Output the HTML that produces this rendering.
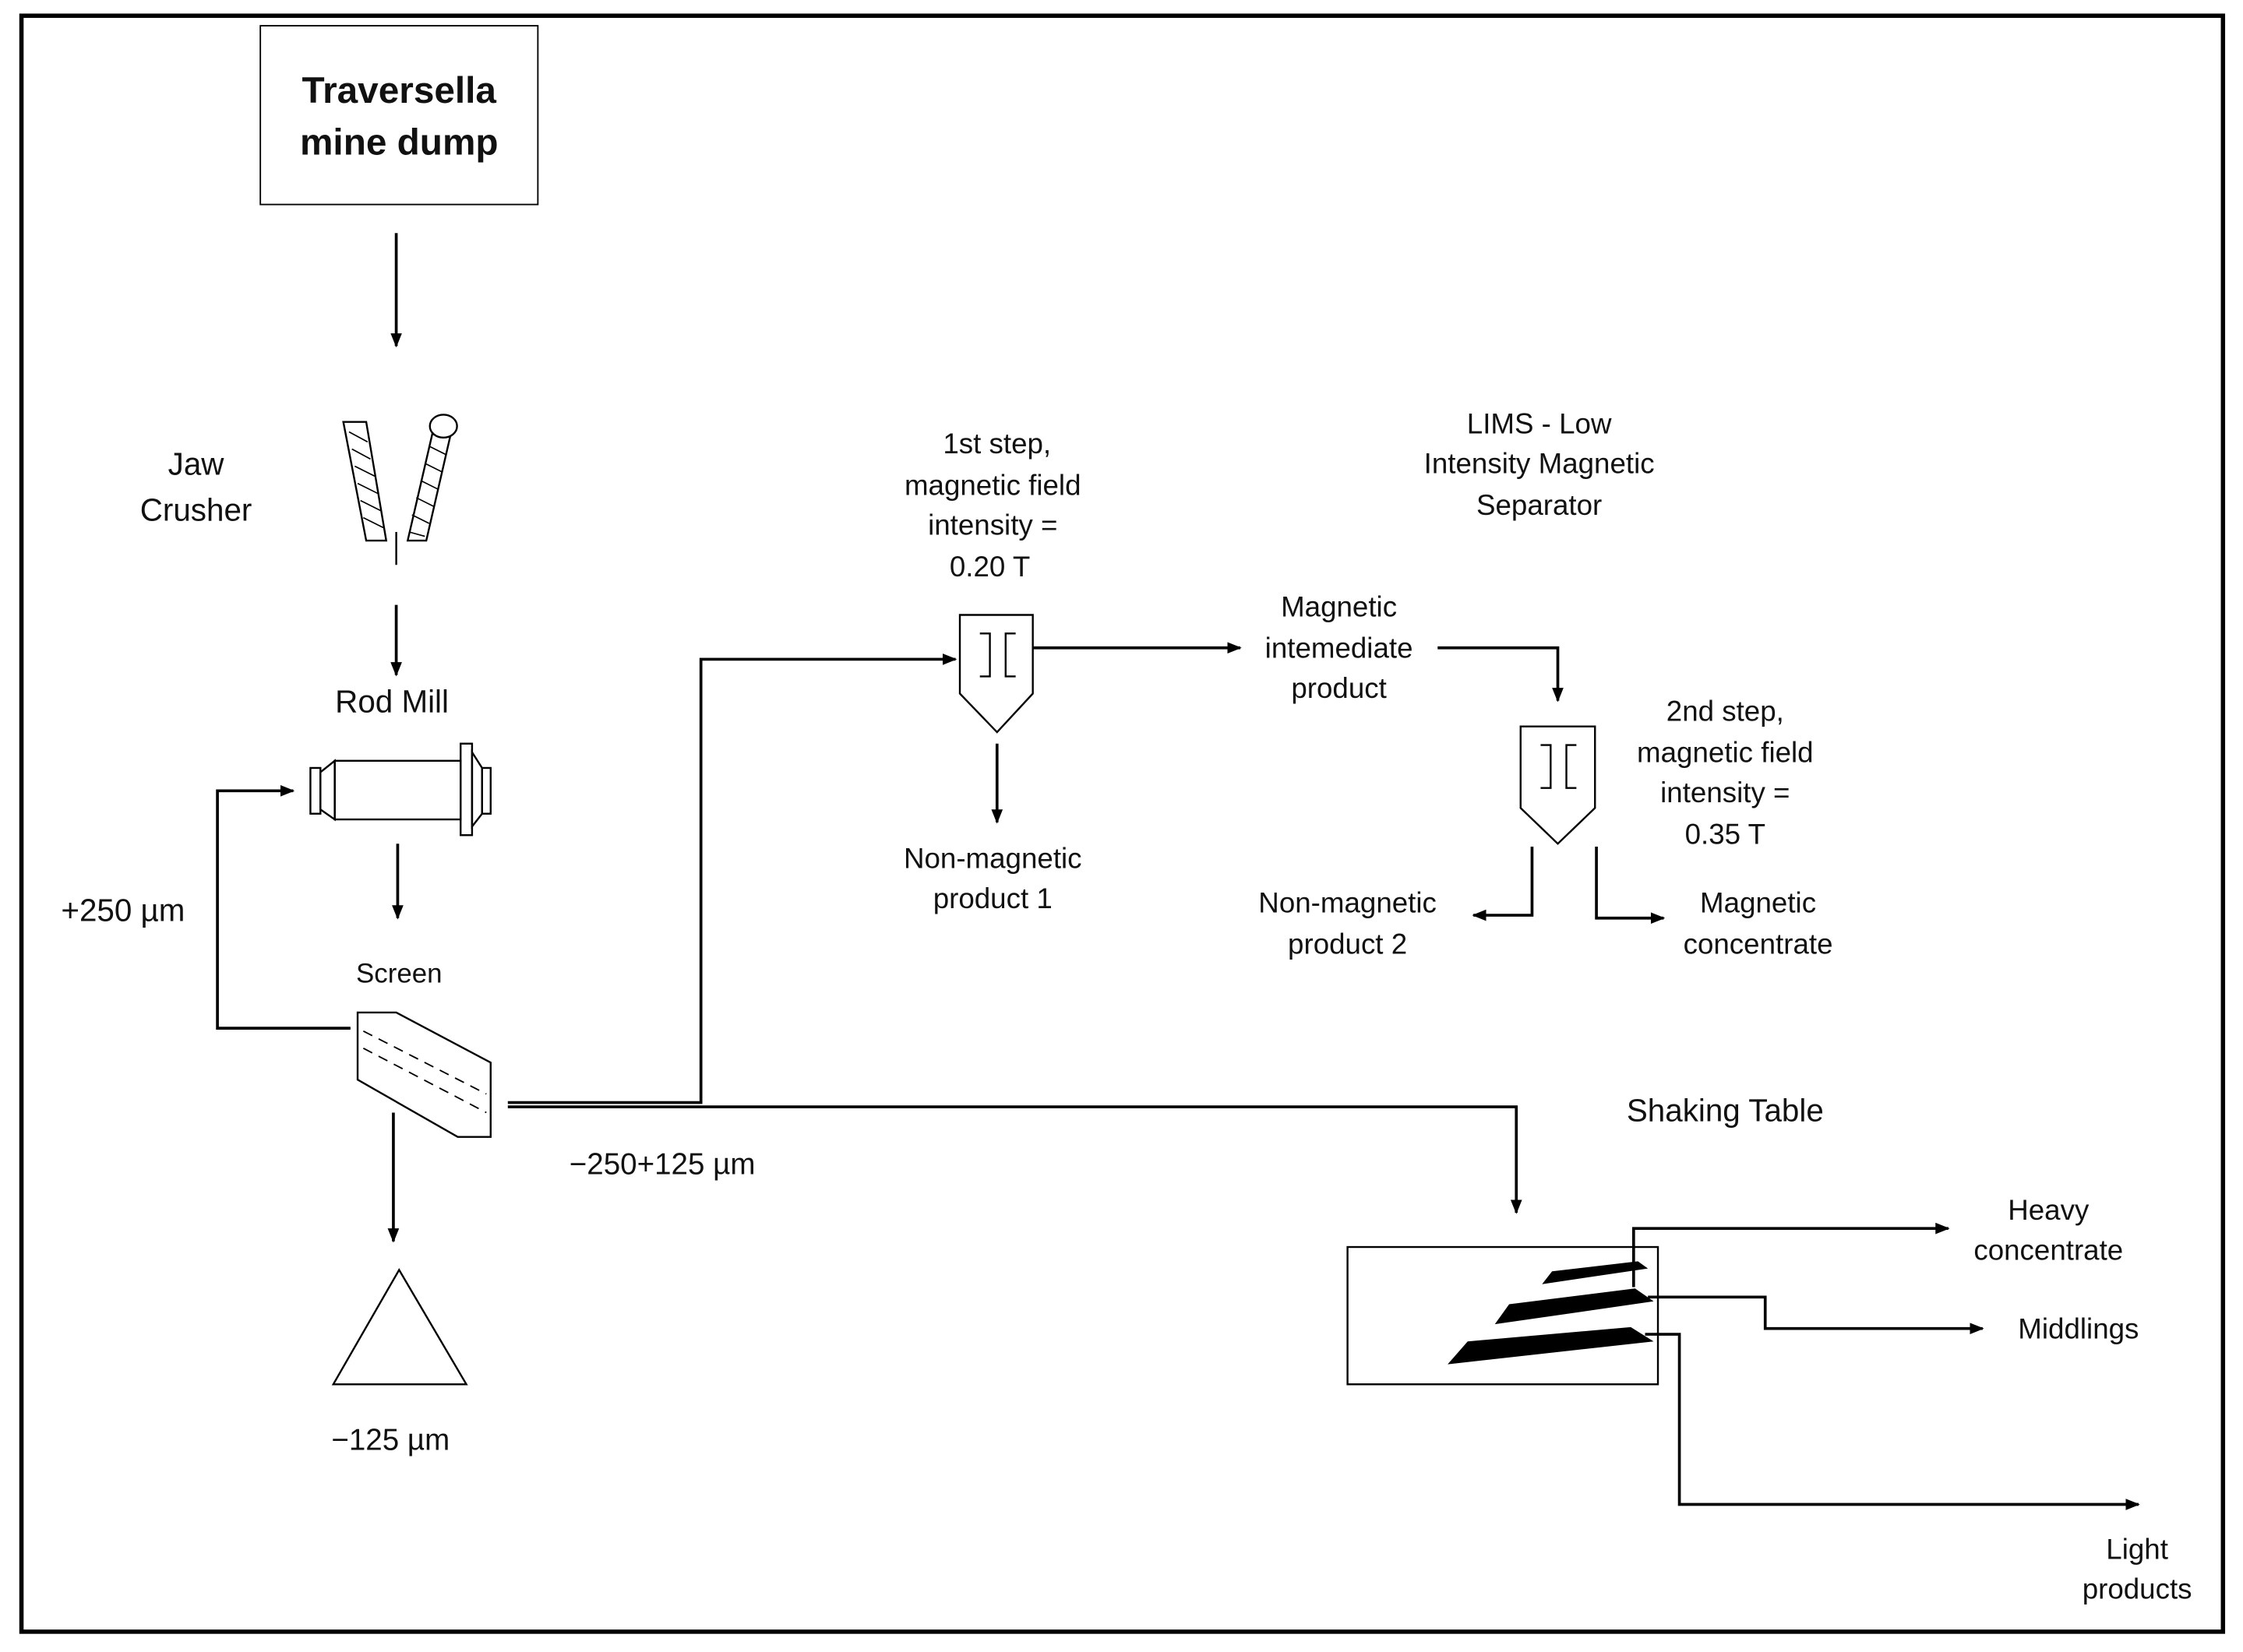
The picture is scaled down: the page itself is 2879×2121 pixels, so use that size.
<!DOCTYPE html>
<html><head><meta charset="utf-8"><style>
html,body{margin:0;padding:0;background:#fff;}
svg{display:block;}
text{font-family:"Liberation Sans",sans-serif;font-size:20px;fill:#111;text-anchor:middle;}
</style></head><body>
<svg width="2879" height="2121" viewBox="0 0 1568 1155.2" preserveAspectRatio="none" xmlns="http://www.w3.org/2000/svg">
<defs>
<marker id="a" markerWidth="10" markerHeight="8" refX="9" refY="4" orient="auto" markerUnits="userSpaceOnUse">
<path d="M0,0 L10,4 L0,8 Z" fill="#000"/></marker>
</defs>
<rect x="0" y="0" width="1568" height="1156" fill="#fff"/>
<rect x="15" y="11" width="1539" height="1130" fill="none" stroke="#000" stroke-width="3"/>
<g fill="none" stroke="#000" stroke-width="2">
<rect x="182" y="18" width="194" height="125" stroke-width="1"/>
<line x1="277" y1="163" x2="277" y2="242" marker-end="url(#a)"/>
<polygon points="240,295 256,295 270,378 256,378" stroke-width="1.3"/>
<g stroke-width="0.9"><line x1="244" y1="302" x2="257" y2="309"/><line x1="246" y1="314" x2="259" y2="321"/><line x1="248" y1="326" x2="262" y2="333"/><line x1="250" y1="338" x2="264" y2="345"/><line x1="252" y1="350" x2="266" y2="357"/><line x1="254" y1="362" x2="268" y2="369"/></g>
<polygon points="303,300 315,304 298,378 285,378" stroke-width="1.3"/>
<g stroke-width="0.9"><line x1="300" y1="312" x2="312" y2="318"/><line x1="297" y1="324" x2="309" y2="330"/><line x1="294" y1="336" x2="306" y2="342"/><line x1="291" y1="348" x2="303" y2="354"/><line x1="288" y1="360" x2="300" y2="366"/><line x1="286" y1="372" x2="297" y2="375"/></g>
<ellipse cx="310" cy="298" rx="9.5" ry="8" fill="#fff" stroke-width="1.3"/>
<line x1="277" y1="372" x2="277" y2="395" stroke-width="1.3"/>
<line x1="277" y1="423" x2="277" y2="472" marker-end="url(#a)"/>
<g stroke-width="1.3">
<rect x="234" y="532" width="88" height="41"/>
<polygon points="224,540 234,532 234,573 224,566"/>
<rect x="217" y="537" width="7" height="32"/>
<rect x="322" y="520" width="8" height="64"/>
<polygon points="330,526 337,537 337,569 330,578"/>
<rect x="337" y="537" width="6" height="32"/>
</g>
<line x1="278" y1="590" x2="278" y2="642" marker-end="url(#a)"/>
<polygon points="250,708 277,708 343,743 343,795 320,795 250,755" stroke-width="1.3"/>
<g stroke-width="1" stroke-dasharray="7,5">
<line x1="254" y1="721" x2="340" y2="765"/>
<line x1="254" y1="733" x2="340" y2="778"/>
</g>
<polyline points="245,719 152,719 152,553 205,553" marker-end="url(#a)"/>
<line x1="275" y1="778" x2="275" y2="868" marker-end="url(#a)"/>
<polygon points="233,968 326,968 279,888" stroke-width="1.3"/>
<polyline points="355,771 490,771 490,461 668,461" marker-end="url(#a)"/>
<polyline points="355,774 1060,774 1060,848" marker-end="url(#a)"/>
<polygon points="671,430 722,430 722,485 697,512 671,485" stroke-width="1.3"/>
<g stroke-width="1.3"><polyline points="685,443 692,443 692,473 685,473"/><polyline points="710,443 703,443 703,473 710,473"/></g>
<line x1="722" y1="453" x2="867" y2="453" marker-end="url(#a)"/>
<line x1="697" y1="520" x2="697" y2="575" marker-end="url(#a)"/>
<polyline points="1005,453 1089,453 1089,490" marker-end="url(#a)"/>
<polygon points="1063,508 1115,508 1115,565 1089,590 1063,565" stroke-width="1.3"/>
<g stroke-width="1.3"><polyline points="1077,521 1084,521 1084,551 1077,551"/><polyline points="1102,521 1095,521 1095,551 1102,551"/></g>
<polyline points="1071,592 1071,640 1030,640" marker-end="url(#a)"/>
<polyline points="1116,592 1116,642 1163,642" marker-end="url(#a)"/>
<rect x="942" y="872" width="217" height="96" stroke-width="1.3"/>
<polyline points="1142,900 1142,859 1362,859" marker-end="url(#a)"/>
<polyline points="1152,907 1234,907 1234,929 1386,929" marker-end="url(#a)"/>
<polyline points="1150,933 1174,933 1174,1052 1495,1052" marker-end="url(#a)"/>
</g>
<g fill="#000">
<polygon points="1078,898 1085,889 1145,882 1152,887"/>
<polygon points="1045,926 1055,912 1143,901 1156,910"/>
<polygon points="1012,954 1026,938 1140,928 1156,938"/>
</g>
<text x="279" y="72" style="font-weight:bold;font-size:26px">Traversella</text>
<text x="279" y="108" style="font-weight:bold;font-size:26px">mine dump</text>
<text x="137" y="332" style="font-size:22px">Jaw</text>
<text x="137" y="364" style="font-size:22px">Crusher</text>
<text x="274" y="498" style="font-size:22px">Rod Mill</text>
<text x="279" y="687" style="font-size:19px">Screen</text>
<text x="86" y="644" style="font-size:22px">+250 µm</text>
<text x="273" y="1014" style="font-size:21px">−125 µm</text>
<text x="463" y="821" style="font-size:21px">−250+125 µm</text>
<text x="697" y="317">1st step,</text>
<text x="694" y="346">magnetic field</text>
<text x="694" y="374">intensity =</text>
<text x="692" y="403">0.20 T</text>
<text x="694" y="607">Non-magnetic</text>
<text x="694" y="635">product 1</text>
<text x="936" y="431">Magnetic</text>
<text x="936" y="460">intemediate</text>
<text x="936" y="488">product</text>
<text x="1076" y="303">LIMS - Low</text>
<text x="1076" y="331">Intensity Magnetic</text>
<text x="1076" y="360">Separator</text>
<text x="1206" y="504">2nd step,</text>
<text x="1206" y="533">magnetic field</text>
<text x="1206" y="561">intensity =</text>
<text x="1206" y="590">0.35 T</text>
<text x="942" y="638">Non-magnetic</text>
<text x="942" y="667">product 2</text>
<text x="1229" y="638">Magnetic</text>
<text x="1229" y="667">concentrate</text>
<text x="1206" y="784" style="font-size:22px">Shaking Table</text>
<text x="1432" y="853">Heavy</text>
<text x="1432" y="881">concentrate</text>
<text x="1453" y="936">Middlings</text>
<text x="1494" y="1090">Light</text>
<text x="1494" y="1118">products</text>
</svg>
</body></html>
